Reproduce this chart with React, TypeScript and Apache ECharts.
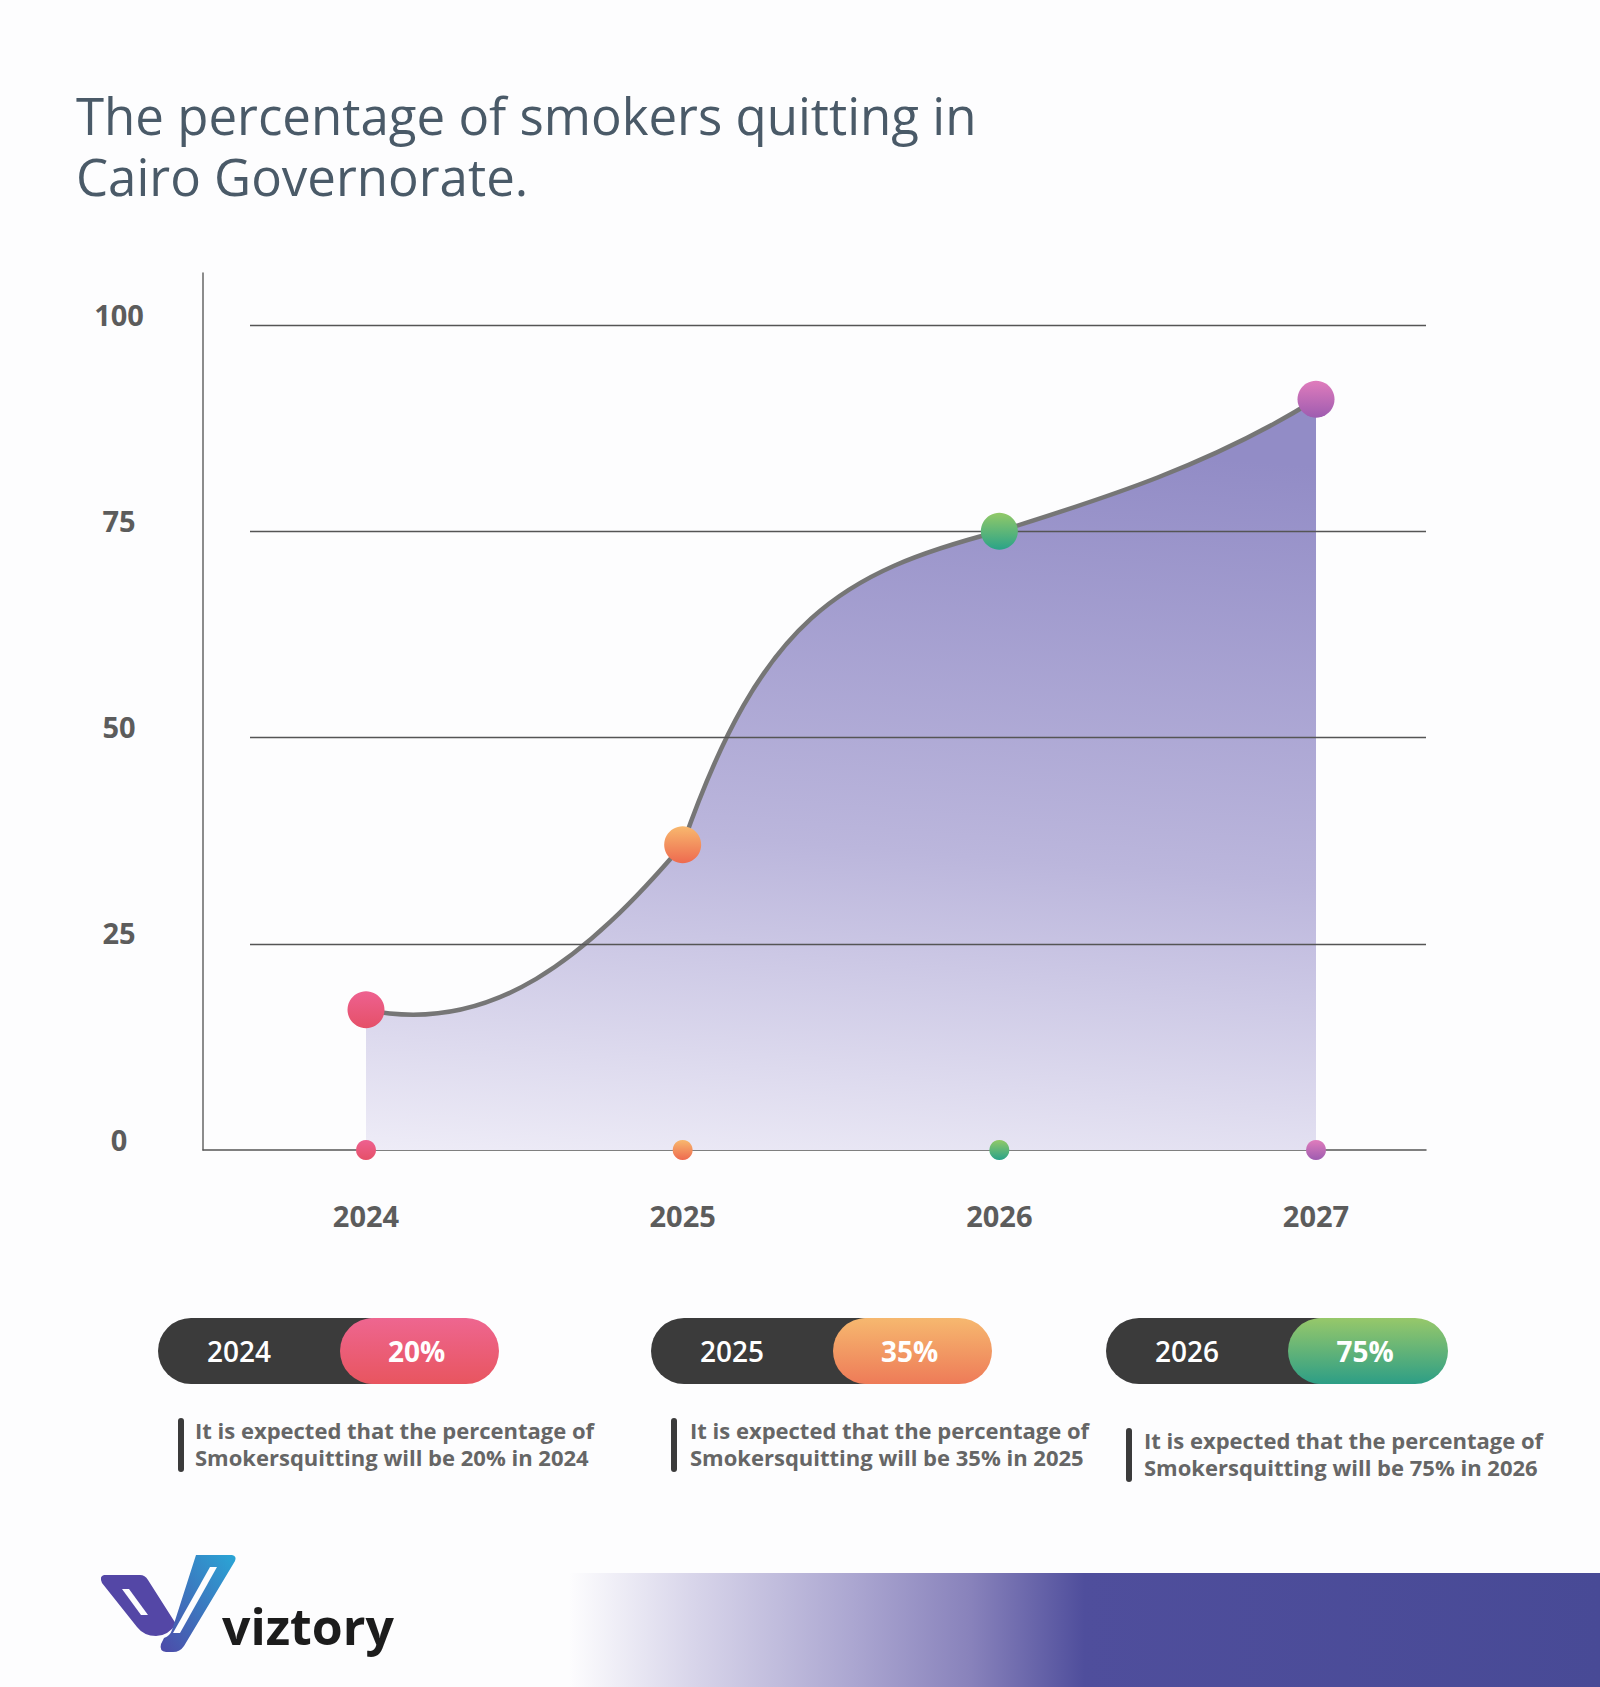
import React, { useEffect, useRef } from 'react';
import * as echarts from 'echarts';

// ---------- data ----------
const years = ['2024', '2025', '2026', '2027'];
const values = [17, 37, 75, 91];
const yTickValues = [0, 25, 50, 75, 100];
const gridValues = [25, 50, 75, 100];
// shape of the drawn curve: slope (value per year) leaving / arriving at each point
const curveOutSlope = [-8, 110, 12];
const curveInSlope = [45, 10, 24];
const handleOut = [0.4, 0.25, 0.33];
const handleIn = [0.3, 0.5, 0.33];
const pointTop = ['#ee6190', '#f8b86e', '#92c968', '#e07cbc'];
const pointBottom = ['#e55068', '#ee6a4f', '#2aa388', '#9e5cb0'];
const pillYears = ['2024', '2025', '2026'];
const pillValues = ['20%', '35%', '75%'];
const pillTop = ['#ee6690', '#f6b86f', '#97c86a'];
const pillBottom = ['#e8555f', '#ee7b58', '#2d9e86'];
const descLine1 = ['It is expected that the percentage of', 'It is expected that the percentage of', 'It is expected that the percentage of'];
const descLine2 = ['Smokersquitting will be 20% in 2024', 'Smokersquitting will be 35% in 2025', 'Smokersquitting will be 75% in 2026'];
const titleLines = ['The percentage of smokers quitting in', 'Cairo Governorate.'];
const brand = 'viztory';

// ---------- logo shapes ----------
echarts.graphic.registerShape('vzLeft', echarts.graphic.extendPath(
  'M14,35 L50,35 Q55,35 58,40 L86,84 Q78,96 66,96 Q54,96 47,87 L12,43 Q9,36 14,35 Z', {}));
echarts.graphic.registerShape('vzLeftSlot', echarts.graphic.extendPath(
  'M32,49 L39,49 L58,75 L51,75 Z', {}));
echarts.graphic.registerShape('vzRight', echarts.graphic.extendPath(
  'M106,15 L142,15 Q147,16 145,21 L94,106 Q90,112 83,112 L76,112 Q69,111 71,104 L74,98 Q80,96 82,90 Z', {}));
echarts.graphic.registerShape('vzRightSlot', echarts.graphic.extendPath(
  'M120,27 L127,27 L90,93 L83,93 Z', {}));

const vGrad = (a: string, b: string) =>
  new echarts.graphic.LinearGradient(0, 0, 0, 1, [
    { offset: 0, color: a },
    { offset: 1, color: b },
  ]);

export default function App() {
  const ref = useRef<HTMLDivElement>(null);

  useEffect(() => {
    if (!ref.current) return;
    const chart = echarts.init(ref.current, undefined, { renderer: 'svg' });

    const x0 = 203; // plot left (px)
    const x1 = 1426; // plot right
    const yTop = 273;
    const yBase = 1150;
    const catLeft = 366;
    const catStep = 316.67;
    const xMin = -(catLeft - x0) / catStep;
    const xMax = 3 + (x1 - (catLeft + 3 * catStep)) / catStep;
    const pxPerUnit = (yBase - 325) / 100;
    const yMax = (yBase - yTop) / pxPerUnit;
    const gridStart = (250 - catLeft) / catStep;

    const pillX = [158, 651, 1106];
    const pillSplit = [340, 833, 1288];
    const pillEnd = [499, 992, 1448];
    const descBarX = [178, 671, 1126];
    const descTextX = [195, 690, 1144];
    const descDy = [0, 0, 10];

    const elements: any[] = [];
    elements.push({
      type: 'text', x: 76, y: 84,
      style: { text: titleLines.join('\n'), fontFamily: '"Open Sans"', fontSize: 51, lineHeight: 61, fill: '#4a5a68', verticalAlign: 'top' },
    });

    pillYears.forEach((yr, i) => {
      const top = 1318, h = 66;
      elements.push({
        type: 'rect', shape: { x: pillX[i], y: top, width: pillSplit[i] - pillX[i] + 60, height: h, r: h / 2 },
        style: { fill: '#3b3b3b' },
      });
      elements.push({
        type: 'rect', shape: { x: pillSplit[i], y: top, width: pillEnd[i] - pillSplit[i], height: h, r: h / 2 },
        style: { fill: vGrad(pillTop[i], pillBottom[i]) },
      });
      elements.push({
        type: 'text', x: pillX[i] + 81, y: top + h / 2,
        style: { text: yr, fontFamily: '"Open Sans"', fontSize: 28, fontWeight: 600, fill: '#ffffff', align: 'center', verticalAlign: 'middle' },
      });
      elements.push({
        type: 'text', x: (pillSplit[i] + pillEnd[i]) / 2 - 3, y: top + h / 2,
        style: { text: pillValues[i], fontFamily: '"Open Sans"', fontSize: 28, fontWeight: 700, fill: '#ffffff', align: 'center', verticalAlign: 'middle' },
      });
      const dy = descDy[i];
      elements.push({
        type: 'rect', shape: { x: descBarX[i], y: 1418 + dy, width: 6, height: 54, r: 3 },
        style: { fill: '#3b3b3b' },
      });
      elements.push({
        type: 'text', x: descTextX[i], y: 1430 + dy,
        style: { text: descLine1[i], fontFamily: '"Open Sans"', fontSize: 22, fontWeight: 700, fill: '#666666', verticalAlign: 'middle' },
      });
      elements.push({
        type: 'text', x: descTextX[i], y: 1457 + dy,
        style: { text: descLine2[i], fontFamily: '"Open Sans"', fontSize: 22, fontWeight: 700, fill: '#666666', verticalAlign: 'middle' },
      });
    });

    // bottom gradient band
    elements.push({
      type: 'rect', shape: { x: 569, y: 1573, width: 1031, height: 114 },
      style: {
        fill: new echarts.graphic.LinearGradient(0, 0, 1, 0, [
          { offset: 0, color: '#fdfdfe' },
          { offset: 0.12, color: '#d8d5ea' },
          { offset: 0.28, color: '#aaa5d0' },
          { offset: 0.39, color: '#8882bb' },
          { offset: 0.5, color: '#4f4e9c' },
          { offset: 1, color: '#484a96' },
        ]),
      },
    });

    // logo
    const logoGrad = new echarts.graphic.LinearGradient(1, 0, 0, 1, [
      { offset: 0, color: '#2aa6d6' },
      { offset: 1, color: '#4d4aa8' },
    ]);
    elements.push({ type: 'vzLeft', x: 90, y: 1540, style: { fill: '#5447a6' } });
    elements.push({ type: 'vzLeftSlot', x: 90, y: 1540, style: { fill: '#fdfdfe' } });
    elements.push({ type: 'vzRight', x: 90, y: 1540, style: { fill: logoGrad } });
    elements.push({ type: 'vzRightSlot', x: 90, y: 1540, style: { fill: '#fdfdfe' } });
    elements.push({
      type: 'text', x: 222, y: 1626,
      style: { text: brand, fontFamily: '"Open Sans"', fontSize: 50, fontWeight: 700, fill: '#1c1c1c', verticalAlign: 'middle' },
    });

    const areaFill = new echarts.graphic.LinearGradient(0.1, 0, 0, 1, [
      { offset: 0, color: '#928cc6' },
      { offset: 0.55, color: '#bbb6dc' },
      { offset: 1, color: '#eeecf7' },
    ]);

    const option: any = {
      animation: false,
      backgroundColor: '#fdfdfe',
      grid: { left: x0, right: 1600 - x1, top: yTop, bottom: 1687 - yBase },
      xAxis: {
        type: 'value', min: xMin, max: xMax,
        splitLine: { show: false },
        axisTick: { show: false },
        axisLine: { show: true, onZero: false, lineStyle: { color: '#555', width: 1.5 } },
        axisLabel: {
          customValues: [0, 1, 2, 3],
          formatter: (v: number) => years[Math.round(v)] ?? '',
          color: '#5c5c5c', fontFamily: '"Open Sans"', fontSize: 29, fontWeight: 700, margin: 51,
        },
      },
      yAxis: {
        type: 'value', min: 0, max: yMax,
        splitLine: { show: false },
        axisTick: { show: false },
        axisLine: { show: true, onZero: false, lineStyle: { color: '#666', width: 1.5 } },
        axisLabel: {
          customValues: yTickValues,
          formatter: (v: number) => String(v),
          color: '#5c5c5c', fontFamily: '"Open Sans"', fontSize: 29, fontWeight: 700,
          align: 'center', verticalAlign: 'bottom', lineHeight: 22, margin: 84,
        },
      },
      graphic: { elements },
      series: [
        {
          type: 'custom',
          data: values.map((v, i) => [i, v]),
          z: 2,
          silent: true,
          renderItem: (params: any, api: any) => {
            if (params.dataIndex !== 0) return null;
            const P = (x: number, y: number) => api.coord([x, y]);
            const pts = values.map((v, i) => P(i, v));
            let d = `M${pts[0][0]},${pts[0][1]}`;
            for (let i = 0; i < values.length - 1; i++) {
              const c1 = P(i + handleOut[i], values[i] + curveOutSlope[i] * handleOut[i]);
              const c2 = P(i + 1 - handleIn[i], values[i + 1] - curveInSlope[i] * handleIn[i]);
              const p = pts[i + 1];
              d += ` C${c1[0]},${c1[1]} ${c2[0]},${c2[1]} ${p[0]},${p[1]}`;
            }
            const b1 = P(values.length - 1, 0);
            const b0 = P(0, 0);
            const area = `${d} L${b1[0]},${b1[1]} L${b0[0]},${b0[1]} Z`;
            return {
              type: 'group',
              children: [
                { type: 'path', shape: { pathData: area }, style: { fill: areaFill } },
                { type: 'path', shape: { pathData: d }, style: { fill: null, stroke: '#767676', lineWidth: 4.5 } },
              ],
            };
          },
        },
        {
          type: 'scatter',
          silent: true,
          data: values.map((v, i) => ({
            value: [i, v],
            itemStyle: { color: vGrad(pointTop[i], pointBottom[i]), opacity: 1 },
          })),
          symbolSize: 37,
          itemStyle: { opacity: 1 },
          z: 6,
        },
        {
          type: 'scatter',
          silent: true,
          data: values.map((_, i) => ({
            value: [i, 0],
            itemStyle: { color: vGrad(pointTop[i], pointBottom[i]), opacity: 1 },
          })),
          symbolSize: 20,
          itemStyle: { opacity: 1 },
          z: 5,
          markLine: {
            silent: true,
            symbol: 'none',
            label: { show: false },
            lineStyle: { color: '#555', width: 1.3, type: 'solid' },
            data: gridValues.map((g) => [{ coord: [gridStart, g] }, { coord: [xMax, g] }]),
          },
        },
      ],
    };
    chart.setOption(option);
    return () => chart.dispose();
  }, []);

  return <div ref={ref} style={{ position: 'absolute', left: 0, top: 0, width: 1600, height: 1687 }} />;
}
